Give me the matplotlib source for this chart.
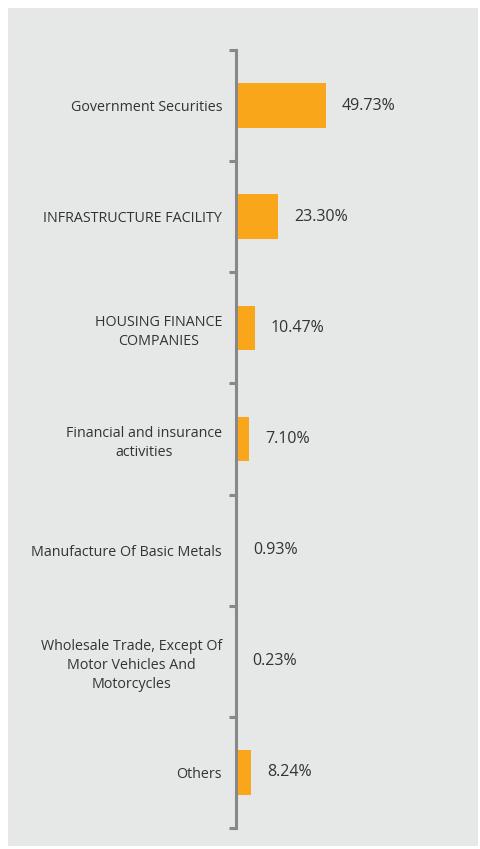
import matplotlib
matplotlib.use("Agg")
import matplotlib.pyplot as plt
from matplotlib.patches import Rectangle

categories = ["Government Securities", "INFRASTRUCTURE FACILITY",
              "HOUSING FINANCE\nCOMPANIES", "Financial and insurance\nactivities",
              "Manufacture Of Basic Metals",
              "Wholesale Trade, Except Of\nMotor Vehicles And\nMotorcycles", "Others"]
values = [49.73, 23.30, 10.47, 7.10, 0.93, 0.23, 8.24]
value_labels = ["49.73%", "23.30%", "10.47%", "7.10%", "0.93%", "0.23%", "8.24%"]

plt.rcParams['font.family'] = ['Open Sans', 'DejaVu Sans']

W, H = 481, 849
fig = plt.figure(figsize=(W / 100, H / 100), dpi=100, facecolor='white')
fig.patches.append(Rectangle((8 / W, 3 / H), 470 / W, 838 / H, transform=fig.transFigure,
                             facecolor='#e6e7e7', edgecolor='none', zorder=-10))

ax = fig.add_axes([236 / W, 21 / H, 224 / W, 778 / H])
ax.set_zorder(5)
ax.set_facecolor('none')
n = len(categories)
pos = list(range(n))
ax.barh(pos, values, height=0.4, color='#faa61a', zorder=2)
ax.set_ylim(n - 0.5, -0.5)
ax.set_xlim(0, 124)

ax.set_yticks(pos)
ax.set_yticklabels(categories, fontsize=10.3, color='#333333', multialignment='center',
                   linespacing=1.4)
ax.tick_params(axis='y', which='major', length=0, pad=10)
ax.set_yticks([i - 0.5 for i in range(n + 1)], minor=True)
ax.tick_params(axis='y', which='minor', length=5, width=2.2, color='#888888')
ax.set_xticks([])

for s in ['top', 'right', 'bottom']:
    ax.spines[s].set_visible(False)
ax.spines['left'].set_color('#888888')
ax.spines['left'].set_linewidth(2.2)

for p, v, lab in zip(pos, values, value_labels):
    ax.annotate(lab, xy=(v, p), xytext=(16, 0), textcoords='offset pixels',
                va='center', ha='left', fontsize=11.5, color='#333333')

fig.savefig('out.png', dpi=100, facecolor='white')
